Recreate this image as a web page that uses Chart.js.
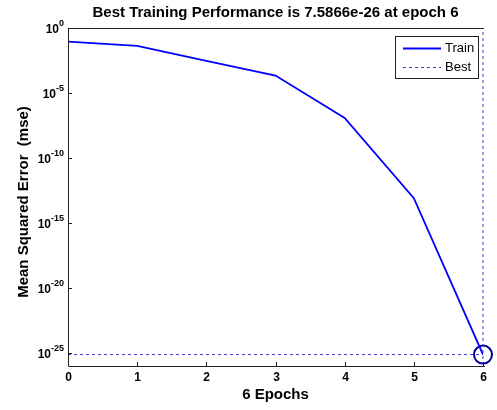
<!DOCTYPE html>
<html>
<head>
<meta charset="utf-8">
<script src="https://cdn.jsdelivr.net/npm/chart.js@4"></script>
<style>
  html, body { margin: 0; padding: 0; background: #fff; }
  #wrap { width: 497px; height: 410px; }
</style>
</head>
<body>
<div id="wrap"><canvas id="perfChart" width="497" height="410"></canvas></div>
<script>
// epochs and training mse
const epochs = [0, 1, 2, 3, 4, 5, 6];
const trainMse = [0.09, 0.042, 3.0e-3, 2.2e-4, 1.2e-7, 8e-14, 7.5866e-26];
const bestEpoch = 6;
const bestMse = 7.5866e-26;
const yTickExps = [0, -5, -10, -15, -20, -25];
const xTicks = [0, 1, 2, 3, 4, 5, 6];

const titleText = 'Best Training Performance is 7.5866e-26 at epoch 6';
const xTitle = '6 Epochs';
const yTitle = 'Mean Squared Error  (mse)';

const Y_MIN = 1.2e-26;
const Y_MAX = 1;

// axes, ticks, labels and legend drawn on top
const matlabAxes = {
    id: 'matlabAxes',
    afterDraw(chart) {
        const ctx = chart.ctx;
        const a = chart.chartArea;
        const xs = chart.scales.x;
        const ys = chart.scales.y;
        ctx.save();

        // box (top, left, bottom)
        ctx.strokeStyle = '#222';
        ctx.lineWidth = 1;
        ctx.beginPath();
        ctx.moveTo(a.right + 1, a.top + 0.5);
        ctx.lineTo(a.left + 0.5, a.top + 0.5);
        ctx.lineTo(a.left + 0.5, a.bottom + 0.5);
        ctx.lineTo(a.right + 2, a.bottom + 0.5);
        ctx.stroke();

        // x ticks (inward)
        ctx.fillStyle = '#000';
        ctx.font = 'bold 12px "Liberation Sans", Arial, sans-serif';
        ctx.textAlign = 'center';
        ctx.textBaseline = 'middle';
        xTicks.forEach(v => {
            const px = Math.round(xs.getPixelForValue(v)) + 0.5;
            ctx.beginPath();
            ctx.moveTo(px, a.bottom);
            ctx.lineTo(px, a.bottom - 4);
            ctx.stroke();
            ctx.fillText(String(v), px, a.bottom + 12);
        });

        // y ticks with 10^n labels
        yTickExps.forEach(e => {
            const py = Math.round(ys.getPixelForValue(Math.pow(10, e))) + 0.5;
            ctx.beginPath();
            ctx.moveTo(a.left, py);
            ctx.lineTo(a.left + 4, py);
            ctx.stroke();
            const expStr = e === 0 ? '0' : '-' + Math.abs(e);
            ctx.font = 'bold 9px "Liberation Sans", Arial, sans-serif';
            const ew = ctx.measureText(expStr).width;
            ctx.textAlign = 'left';
            const right = a.left - 4;
            ctx.fillText(expStr, right - ew, py - 5);
            ctx.font = 'bold 12px "Liberation Sans", Arial, sans-serif';
            ctx.textAlign = 'right';
            ctx.fillText('10', right - ew, py + 1);
        });

        // title
        const cx = (a.left + a.right) / 2;
        ctx.textAlign = 'center';
        ctx.font = 'bold 15px "Liberation Sans", Arial, sans-serif';
        ctx.fillText(titleText, cx, 13);

        // x title
        ctx.fillText(xTitle, cx, a.bottom + 29);

        // y title
        ctx.save();
        ctx.translate(24, (a.top + a.bottom) / 2 + 5);
        ctx.rotate(-Math.PI / 2);
        ctx.fillText(yTitle, 0, 0);
        ctx.restore();

        // legend box
        const lx = 395, ly = 36, lw = 83, lh = 42;
        ctx.fillStyle = '#fff';
        ctx.fillRect(lx, ly, lw, lh);
        ctx.strokeStyle = '#222';
        ctx.strokeRect(lx + 0.5, ly + 0.5, lw, lh);
        const items = chart.data.datasets.filter(d => d.showInLegend);
        items.forEach((d, i) => {
            const y = ly + 12 + i * 19 + 0.5;
            ctx.strokeStyle = d.borderColor;
            ctx.lineWidth = d.borderWidth;
            ctx.setLineDash(d.borderDash || []);
            ctx.beginPath();
            ctx.moveTo(lx + 8, y);
            ctx.lineTo(lx + 46, y);
            ctx.stroke();
            ctx.setLineDash([]);
            ctx.fillStyle = '#000';
            ctx.font = '13px "Liberation Sans", Arial, sans-serif';
            ctx.textAlign = 'left';
            ctx.fillText(d.label, lx + 50, y);
        });

        ctx.restore();
    }
};

const ctx = document.getElementById('perfChart');

new Chart(ctx, {
    type: 'line',
    data: {
        datasets: [
            {
                label: 'Train',
                showInLegend: true,
                data: epochs.map((e, i) => ({ x: e, y: trainMse[i] })),
                borderColor: '#0000ff',
                borderWidth: 1.8,
                pointRadius: 0,
                tension: 0
            },
            {
                label: 'Best',
                showInLegend: true,
                data: [{ x: 0, y: bestMse }, { x: bestEpoch, y: bestMse }],
                borderColor: '#3a3ad0',
                borderWidth: 1,
                borderDash: [3, 3],
                pointRadius: 0
            },
            {
                label: 'Best vertical',
                data: [{ x: bestEpoch, y: Y_MIN }, { x: bestEpoch, y: Y_MAX }],
                borderColor: '#3a3ad0',
                borderWidth: 1,
                borderDash: [3, 3],
                pointRadius: 0,
                clip: false
            },
            {
                label: 'Best point',
                data: [{ x: bestEpoch, y: bestMse }],
                showLine: false,
                pointRadius: 9,
                pointBorderWidth: 2,
                pointBorderColor: '#000099',
                pointBackgroundColor: 'rgba(0,0,0,0)',
                clip: false
            }
        ]
    },
    options: {
        responsive: false,
        animation: false,
        events: [],
        layout: {
            padding: { left: 68, top: 28, right: 14, bottom: 44 }
        },
        plugins: {
            legend: { display: false },
            tooltip: { enabled: false },
            title: { display: false }
        },
        scales: {
            x: {
                type: 'linear',
                display: false,
                min: 0,
                max: 6
            },
            y: {
                type: 'logarithmic',
                display: false,
                min: Y_MIN,
                max: Y_MAX
            }
        }
    },
    plugins: [matlabAxes]
});
</script>
</body>
</html>
